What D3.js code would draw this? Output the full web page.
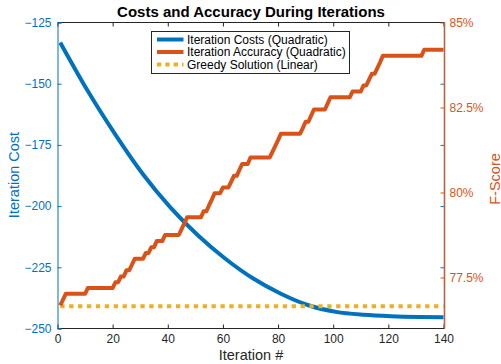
<!DOCTYPE html>
<html><head><meta charset="utf-8">
<script src="https://cdn.jsdelivr.net/npm/d3@7"></script>
<style>body{margin:0;background:#fff}svg{display:block;font-family:"Liberation Sans",Arial,Helvetica,sans-serif}</style>
</head><body>
<svg id="c" width="501" height="364"></svg>
<script>
// ---- data ----
const costIterations = [1, 11, 21, 31, 41, 51, 61, 71, 81, 91, 101, 111, 121, 131, 140];
const costValues = [-133.2, -153.0, -170.8, -187.0, -200.6, -212.0, -221.6, -229.6, -235.8, -240.5, -243.2, -244.4, -245.0, -245.3, -245.4];
const accuracyValues = [
 76.68, 76.85,
 77.02,77.02,77.02,77.02,77.02,77.02,77.02,77.02,
 77.19,77.19,77.19,77.19,77.19,77.19,77.19,77.19,77.19,77.19,
 77.36,77.36, 77.53,77.53, 77.71,77.71, 77.88,
 78.05,78.05,78.05,78.05, 78.22,78.22, 78.39,78.39, 78.57,78.57,78.57,
 78.75,78.75,78.75,78.75,78.75,78.75, 78.92, 79.09,
 79.27,79.27,79.27,79.27,79.27,79.27, 79.45,79.45, 79.63, 79.80,
 79.98,79.98,79.98, 80.15,80.15,80.15, 80.32, 80.49,80.49, 80.67,
 80.84,80.84,80.84,
 81.03,81.03,81.03,81.03,81.03,81.03,81.03,81.03, 81.20, 81.37, 81.54,
 81.73,81.73,81.73,81.73,81.73,81.73,81.73,81.73, 81.90, 82.08,82.08, 82.26,
 82.44,82.44,82.44,82.44,82.44, 82.62,
 82.80,82.80,82.80,82.80,82.80,82.80,82.80,82.80,
 82.97,82.97,82.97,82.97, 83.15,83.15, 83.32, 83.49,83.49, 83.66, 83.83,
 84.02,84.02,84.02,84.02,84.02,84.02,84.02,84.02,84.02,84.02,84.02,84.02,84.02,84.02,84.02,
 84.20,84.20,84.20,84.20,84.20,84.20,84.20,84.20
];
const accuracyIterations = accuracyValues.map((v, i) => i + 1);
const greedyIterations = [1, 140];
const greedyValue = -240.9;
const xTicks = [0, 20, 40, 60, 80, 100, 120, 140];
const leftTicks = [-250, -225, -200, -175, -150, -125];
const rightTicks = [77.5, 80, 82.5, 85];
const seriesNames = ["Iteration Costs (Quadratic)", "Iteration Accuracy (Quadratic)", "Greedy Solution (Linear)"];
const titleText = "Costs and Accuracy During Iterations";

// ---- drawing ----
const C = {blue: "#0072BD", orange: "#D95319", yellow: "#EDB120", axis: "#262626", rightAxis: "#b9643d"};
const L = 57.5, R = 444.5, T = 22.5, B = 328.5;
const svg = d3.select("#c");
const x = d3.scaleLinear().domain([0, 140]).range([L, 443.5]);
const yL = d3.scaleLinear().domain([-250, -125]).range([B, T]);
const yR = d3.scaleLinear().domain([76, 85]).range([B, T]);

// lines
const costLine = d3.line().x(d => x(d[0])).y(d => yL(d[1])).curve(d3.curveMonotoneX);
svg.append("path").datum(costIterations.map((it, i) => [it, costValues[i]]))
  .attr("d", costLine).attr("fill", "none").attr("stroke", C.blue).attr("stroke-width", 4);

svg.append("path").datum(greedyIterations.map(it => [it, greedyValue]))
  .attr("d", d3.line().x(d => x(d[0])).y(d => yL(d[1])))
  .attr("fill", "none").attr("stroke", C.yellow).attr("stroke-width", 4).attr("stroke-dasharray", "4.3,4.6");

svg.append("path").datum(accuracyIterations.map((it, i) => [it, accuracyValues[i]]))
  .attr("d", d3.line().x(d => x(d[0])).y(d => yR(d[1])))
  .attr("fill", "none").attr("stroke", C.orange).attr("stroke-width", 4).attr("stroke-linejoin", "round");

// axes
const fs = 12;
const gx = svg.append("g").attr("transform", `translate(0,${B})`)
  .call(d3.axisBottom(x).tickValues(xTicks).tickSize(-4).tickPadding(6).tickFormat(d3.format("d")));
gx.select(".domain").attr("d", `M${L},0H${R}`);
const gxt = svg.append("g").attr("transform", `translate(0,${T})`)
  .call(d3.axisTop(x).tickValues(xTicks).tickSize(-4).tickFormat(""));
gxt.select(".domain").attr("d", `M${L},0H${R}`);
[gx, gxt].forEach(g => { g.selectAll("path,line").attr("stroke", C.axis); g.selectAll("text").attr("fill", C.axis).attr("font-size", fs).attr("font-family", null); });

const gl = svg.append("g").attr("transform", `translate(${L},0)`)
  .call(d3.axisLeft(yL).tickValues(leftTicks).tickSize(-4).tickPadding(6).tickFormat(d3.format("d")));
gl.selectAll("path,line").attr("stroke", C.blue);
gl.selectAll("text").attr("fill", C.blue).attr("font-size", fs).attr("font-family", null);

// mirrored left ticks at right side
svg.append("g").attr("transform", `translate(${R},0)`)
  .call(d3.axisRight(yL).tickValues(leftTicks.slice(1, -1)).tickSize(-4).tickFormat(""))
  .call(g => g.select(".domain").remove())
  .selectAll("line").attr("stroke", C.blue);

const gr = svg.append("g").attr("transform", `translate(${R},0)`)
  .call(d3.axisRight(yR).tickValues(rightTicks).tickSize(-4).tickPadding(5).tickFormat(d => d + "%"));
gr.select(".domain").attr("d", `M0,${T}V${B}`).attr("stroke", C.rightAxis).attr("stroke-width", 1.6);
gr.selectAll("line").attr("stroke", C.orange);
gr.selectAll("text").attr("fill", C.orange).attr("font-size", fs).attr("font-family", null);

// titles
svg.append("text").attr("x", 251).attr("y", 17).attr("text-anchor", "middle")
  .attr("font-weight", "bold").attr("font-size", 15).attr("fill", "#000").text(titleText);
svg.append("text").attr("x", 251).attr("y", 360).attr("text-anchor", "middle")
  .attr("font-size", 14.5).attr("fill", C.axis).text("Iteration #");
svg.append("text").attr("transform", "translate(19,175) rotate(-90)").attr("text-anchor", "middle")
  .attr("font-size", 14.5).attr("fill", C.blue).text("Iteration Cost");
svg.append("text").attr("transform", "translate(499.5,179) rotate(-90)").attr("text-anchor", "middle")
  .attr("font-size", 14.5).attr("fill", C.orange).text("F-Score");

// legend
const lg = svg.append("g");
lg.append("rect").attr("x", 151.5).attr("y", 31.5).attr("width", 198).attr("height", 42)
  .attr("fill", "#fff").attr("stroke", C.axis).attr("stroke-width", 1);
const ly = [39.5, 52, 64.5];
const lstyles = [[C.blue, null], [C.orange, null], [C.yellow, "4.3,4"]];
seriesNames.forEach((n, i) => {
  lg.append("line").attr("x1", 157).attr("x2", 183.5).attr("y1", ly[i]).attr("y2", ly[i])
    .attr("stroke", lstyles[i][0]).attr("stroke-width", 4).attr("stroke-dasharray", lstyles[i][1]);
  lg.append("text").attr("x", 187).attr("y", ly[i] + 4.3).attr("font-size", 12).attr("fill", "#000").text(n);
});
</script>
</body></html>
